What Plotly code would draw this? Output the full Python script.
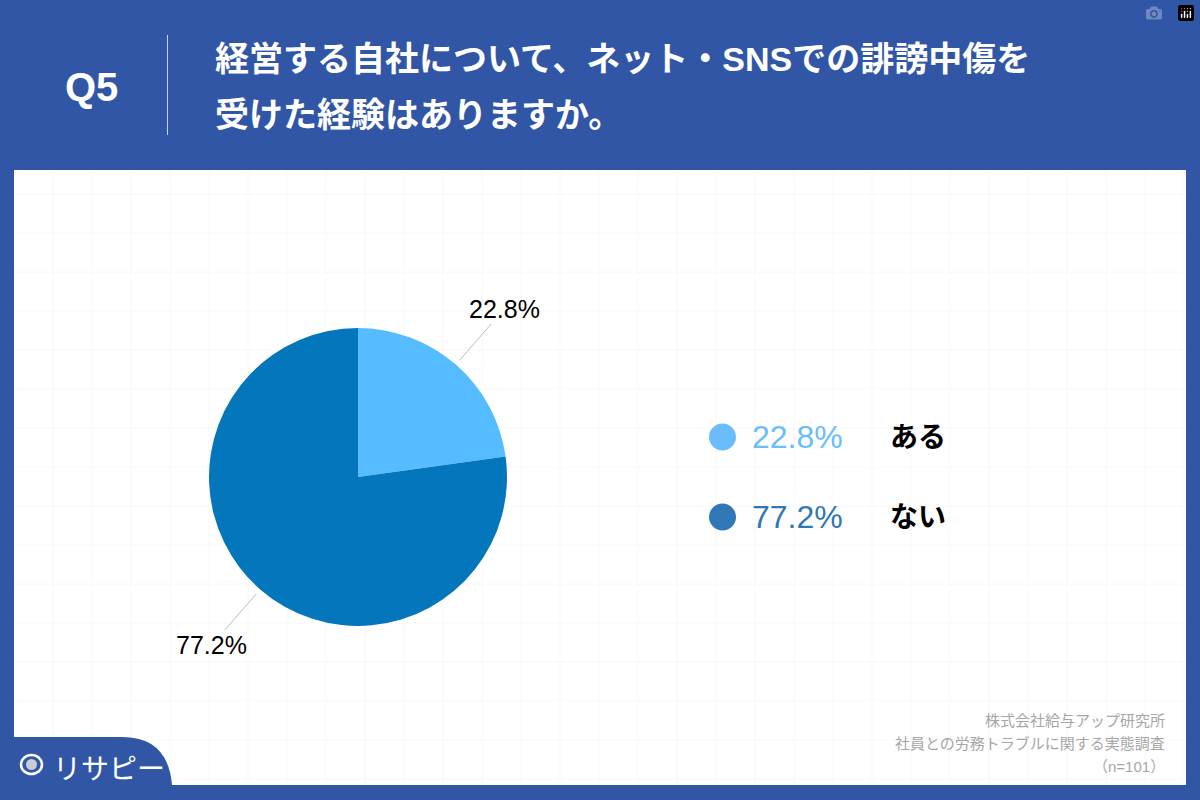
import math
import plotly.graph_objects as go

categories = ["ある", "ない"]
values = [22.8, 77.2]
pie_colors = ["#55BDFF", "#0477BC"]
legend_colors = ["#6ABDFA", "#2F77B5"]
title_lines = ["経営する自社について、ネット・SNSでの誹謗中傷を", "受けた経験はありますか。"]
question = "Q5"
footer_lines = ["株式会社給与アップ研究所", "社員との労務トラブルに関する実態調査", "（n=101）"]
logo_text = "リサピー"

W, H = 1200, 800
BLUE = "#3156A6"
FONT = "Liberation Sans, Noto Sans CJK JP, sans-serif"
CX, CY, R = 358, 477, 149


def px(x):
    return x / W


def py(y):
    return 1 - y / H


fig = go.Figure(go.Pie(
    labels=categories, values=values, sort=False, direction="clockwise", rotation=0,
    marker=dict(colors=pie_colors, line=dict(width=0)),
    textinfo="none", hoverinfo="label+percent", showlegend=False,
    domain=dict(x=[px(CX - R), px(CX + R)], y=[py(CY + R), py(CY - R)]),
))

shapes = []
annotations = []


def rect(x0, y0, x1, y1, color):
    shapes.append(dict(type="rect", xref="paper", yref="paper", x0=px(x0), x1=px(x1),
                       y0=py(y1), y1=py(y0), fillcolor=color, line=dict(width=0), layer="below"))


def line(x0, y0, x1, y1, color, width=1):
    shapes.append(dict(type="line", xref="paper", yref="paper", x0=px(x0), x1=px(x1),
                       y0=py(y0), y1=py(y1), line=dict(color=color, width=width), layer="below"))


def text(x, y, s, size, color, anchor="left", bold=False):
    annotations.append(dict(xref="paper", yref="paper", x=px(x), y=py(y), text=f"<b>{s}</b>" if bold else s,
                            showarrow=False, xanchor=anchor, yanchor="middle",
                            font=dict(family=FONT, size=size, color=color)))


# panel and faint background grid
rect(14, 170, 1186, 785, "#FFFFFF")
for gx in range(53, 1186, 39):
    line(gx, 170, gx, 785, "#F8F8F8")
for gy in range(194, 785, 39):
    line(14, gy, 1186, gy, "#F8F8F8")

# header
line(167.5, 35, 167.5, 135, "#C9D3E8")
text(91, 87, question, 40, "#FFFFFF", "center", True)
text(213, 59, title_lines[0], 34, "#FFFFFF", bold=True)
text(213, 115, title_lines[1], 34, "#FFFFFF", bold=True)

# outside labels with leader lines, placed from the slice mid-angles
total = sum(values)
start = 0
for v in values:
    mid = math.radians((start + v / 2) / total * 360)
    start += v
    s, c = math.sin(mid), math.cos(mid)
    line(CX + 155 * s, CY - 155 * c, CX + 203 * s, CY - 203 * c, "#BDBDBD")
    text(CX + 223 * s, CY - 223 * c, f"{v}%", 25, "#000000", "center")

# legend
for i, (cat, v, col) in enumerate(zip(categories, values, legend_colors)):
    y = 437 + i * 80
    shapes.append(dict(type="circle", xref="paper", yref="paper", x0=px(709), x1=px(736),
                       y0=py(y + 13.5), y1=py(y - 13.5), fillcolor=col, line=dict(width=0)))
    text(750, y, f"{v}%", 32, col)
    text(888, y, cat, 28, "#000000", bold=True)

# footer
for ln, y in zip(footer_lines, [720, 743, 766]):
    text(1167, y, ln, 15, "#A6A6A6", "right")

# logo tab
shapes.append(dict(type="path", xref="paper", yref="paper",
                   path=f"M {px(14)} {py(785)} L {px(14)} {py(737)} L {px(122)} {py(737)} "
                        f"Q {px(168)} {py(737)} {px(172)} {py(785)} Z",
                   fillcolor=BLUE, line=dict(width=0)))
shapes.append(dict(type="circle", xref="paper", yref="paper", x0=px(21), x1=px(42),
                   y0=py(774), y1=py(755), fillcolor="rgba(0,0,0,0)", line=dict(color="#FFFFFF", width=2.5)))
shapes.append(dict(type="circle", xref="paper", yref="paper", x0=px(26), x1=px(37),
                   y0=py(770), y1=py(759), fillcolor="#C8CCD4", line=dict(width=0)))
line(31.5, 774, 31.5, 781, "#FFFFFF", 2.5)
text(51, 769, logo_text, 28, "#FFFFFF")

fig.update_layout(width=W, height=H, margin=dict(l=0, r=0, t=0, b=0), autosize=False,
                  paper_bgcolor=BLUE, plot_bgcolor=BLUE, shapes=shapes, annotations=annotations,
                  showlegend=False)
fig.write_html("out.html", post_script="document.body.style.margin='0';")
